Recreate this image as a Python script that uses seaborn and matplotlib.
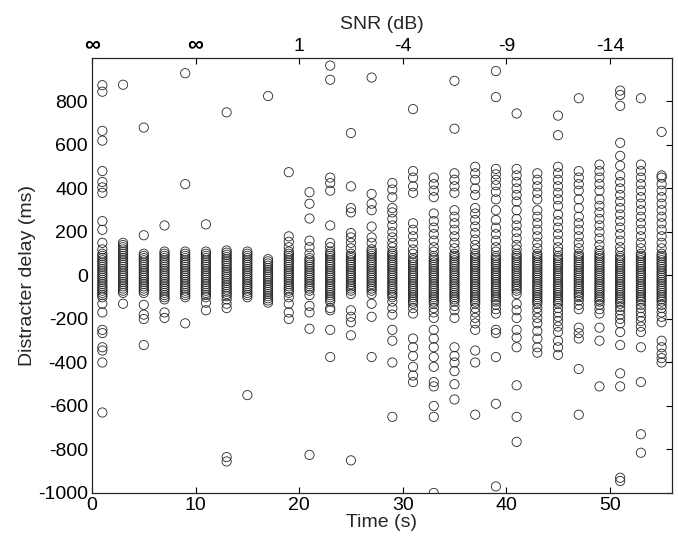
import matplotlib
matplotlib.use("Agg")
import matplotlib.pyplot as plt
import seaborn as sns
import pandas as pd

# ---- data ----
times = [1, 3, 5, 7, 9, 11, 13, 15, 17, 19, 21, 23, 25, 27,
         29, 31, 33, 35, 37, 39, 41, 43, 45, 47, 49, 51, 53, 55]

d01 = [875, 845, 665, 620, 480, 430, 405, 380, 250, 210, 150, 120,
       100, 90, 80, 70, 60, 50, 40, 30, 20, 10, 0, -10, -20, -30, -40, -50, -60, -70, -80, -90, -100,
       -130, -170, -250, -265, -330, -345, -400, -630]
d03 = [877, 150, 140, 130, 120, 110, 100, 90, 80, 70, 60, 50, 40, 30, 20, 10, 0,
       -10, -20, -30, -40, -50, -60, -70, -80, -130]
d05 = [680, 185, 100, 90, 80, 70, 60, 50, 40, 30, 20, 10, 0, -10, -20, -30, -40,
       -50, -60, -70, -80, -135, -180, -200, -320]
d07 = [230, 110, 100, 90, 80, 70, 60, 50, 40, 30, 20, 10, 0, -10, -20, -30, -40,
       -50, -60, -70, -80, -90, -100, -110, -170, -195]
d09 = [930, 420, 110, 100, 90, 80, 70, 60, 50, 40, 30, 20, 10, 0, -10, -20, -30,
       -40, -50, -60, -70, -80, -90, -100, -220]
d11 = [235, 110, 100, 90, 80, 70, 60, 50, 40, 30, 20, 10, 0, -10, -20, -30, -40,
       -50, -60, -70, -80, -90, -100, -125, -160]
d13 = [750, 115, 105, 95, 85, 75, 65, 55, 45, 35, 25, 15, 5, -5, -15, -25, -35,
       -45, -55, -65, -75, -85, -95, -110, -130, -150, -835, -855]
d15 = [110, 100, 90, 80, 70, 60, 50, 40, 30, 20, 10, 0, -10, -20, -30, -40, -50,
       -60, -70, -80, -90, -100, -550]
d17 = [825, 75, 65, 55, 45, 35, 25, 15, 5, -5, -15, -25, -35, -45, -55, -65, -75,
       -85, -95, -105, -115, -125]
d19 = [475, 180, 155, 130, 110, 100, 90, 80, 70, 60, 50, 40, 30, 20, 10, 0, -10,
       -20, -30, -40, -50, -60, -70, -80, -100, -130, -170, -200]
d21 = [383, 330, 262, 160, 130, 100, 80, 70, 60, 50, 40, 30, 20, 10, 0, -10, -20,
       -30, -40, -50, -60, -70, -90, -140, -170, -245, -825]
d23 = [965, 900, 450, 425, 390, 230, 150, 130, 110, 100, 90, 80, 70, 60, 50, 40,
       30, 20, 10, 0, -10, -20, -30, -40, -50, -60, -70, -80, -90, -100, -110,
       -120, -150, -160, -250, -375]
d25 = [655, 410, 310, 290, 195, 175, 150, 125, 100, 90, 80, 70, 60, 50, 40, 30,
       20, 10, 0, -10, -20, -30, -40, -50, -60, -70, -85, -160, -190, -215, -275, -850]
d27 = [910, 375, 330, 300, 225, 175, 150, 120, 110, 100, 90, 80, 70, 60, 50, 40,
       30, 20, 10, 0, -10, -20, -30, -40, -50, -60, -70, -85, -130, -190, -375]
d29 = [425, 395, 360, 310, 290, 260, 230, 200, 175, 150, 130, 110, 100, 90, 80,
       70, 60, 50, 40, 30, 20, 10, 0, -10, -20, -30, -40, -50, -60, -70, -80, -90,
       -100, -120, -150, -180, -250, -300, -400, -650]
d31 = [765, 480, 450, 410, 380, 240, 210, 180, 150, 120, 100, 80, 70, 60, 50, 40,
       30, 20, 10, 0, -10, -20, -30, -40, -50, -60, -70, -80, -90, -100, -110, -120,
       -130, -150, -175, -290, -330, -370, -420, -460, -490]
d33 = [450, 420, 390, 360, 285, 250, 220, 190, 160, 130, 110, 90, 80, 70, 60, 50,
       40, 30, 20, 10, 0, -10, -20, -30, -40, -50, -60, -70, -80, -90, -100, -110,
       -120, -130, -150, -170, -195, -250, -290, -330, -375, -420, -490, -510,
       -600, -650, -1000]
d35 = [895, 675, 470, 440, 410, 380, 300, 270, 240, 210, 180, 150, 125, 100, 90,
       80, 70, 60, 50, 40, 30, 20, 10, 0, -10, -20, -30, -40, -50, -60, -70, -80,
       -90, -100, -110, -120, -140, -160, -195, -330, -370, -400, -440, -500, -570]
d37 = [500, 470, 440, 400, 370, 310, 285, 255, 225, 195, 165, 140, 120, 100, 90,
       80, 70, 60, 50, 40, 30, 20, 10, 0, -10, -20, -30, -40, -50, -60, -70, -80,
       -90, -100, -110, -120, -130, -150, -170, -195, -220, -250, -345, -400, -640]
d39 = [940, 820, 490, 465, 440, 415, 385, 350, 300, 255, 220, 190, 160, 130, 110,
       90, 80, 70, 60, 50, 40, 30, 20, 10, 0, -10, -20, -30, -40, -50, -60, -70,
       -80, -90, -100, -110, -120, -135, -155, -175, -250, -265, -375, -590, -970]
d41 = [745, 490, 460, 430, 400, 370, 340, 300, 260, 230, 200, 170, 140, 120, 100,
       90, 80, 70, 60, 50, 40, 30, 20, 10, 0, -10, -20, -30, -40, -50, -60, -70,
       -85, -130, -160, -195, -250, -285, -330, -505, -650, -765]
d43 = [470, 440, 410, 380, 350, 300, 270, 240, 210, 180, 150, 125, 100, 90, 80,
       70, 60, 50, 40, 30, 20, 10, 0, -10, -20, -30, -40, -50, -60, -70, -80, -90,
       -100, -110, -120, -130, -150, -170, -195, -220, -255, -290, -330, -355]
d45 = [735, 645, 500, 470, 440, 410, 380, 350, 320, 280, 250, 220, 190, 160, 130,
       110, 90, 80, 70, 60, 50, 40, 30, 20, 10, 0, -10, -20, -30, -40, -50, -60,
       -70, -80, -90, -100, -110, -120, -130, -150, -170, -190, -210, -235, -260,
       -300, -330, -365]
d47 = [815, 480, 450, 420, 390, 350, 310, 270, 240, 210, 180, 150, 125, 100, 90,
       80, 70, 60, 50, 40, 30, 20, 10, 0, -10, -20, -30, -40, -50, -60, -70, -80,
       -90, -100, -115, -135, -155, -240, -265, -290, -430, -640]
d49 = [510, 480, 450, 420, 390, 350, 320, 290, 260, 230, 200, 170, 140, 115, 100,
       90, 80, 70, 60, 50, 40, 30, 20, 10, 0, -10, -20, -30, -40, -50, -60, -70,
       -80, -90, -100, -110, -120, -135, -155, -175, -240, -300, -510]
d51 = [850, 830, 780, 610, 550, 505, 460, 430, 400, 370, 340, 310, 280, 250, 220,
       190, 160, 130, 110, 90, 80, 70, 60, 50, 40, 30, 20, 10, 0, -10, -20, -30,
       -40, -50, -60, -70, -80, -90, -100, -110, -120, -130, -145, -160, -180,
       -200, -220, -260, -320, -450, -510, -930, -945]
d53 = [815, 510, 480, 450, 420, 390, 360, 330, 300, 270, 240, 210, 180, 150, 125,
       100, 90, 80, 70, 60, 50, 40, 30, 20, 10, 0, -10, -20, -30, -40, -50, -60,
       -70, -80, -90, -100, -110, -120, -135, -150, -170, -190, -210, -235, -260,
       -330, -490, -730, -815]
d55 = [660, 460, 450, 420, 390, 360, 330, 300, 270, 240, 210, 180, 150, 125, 100,
       90, 80, 70, 60, 50, 40, 30, 20, 10, 0, -10, -20, -30, -40, -50, -60, -70,
       -80, -90, -100, -110, -120, -135, -150, -170, -190, -215, -300, -330, -360,
       -380, -400]

delays = [d01, d03, d05, d07, d09, d11, d13, d15, d17, d19, d21, d23, d25, d27,
          d29, d31, d33, d35, d37, d39, d41, d43, d45, d47, d49, d51, d53, d55]

snr_ticks = [0, 10, 20, 30, 40, 50]
snr_labels = ["\u221e", "\u221e", "1", "-4", "-9", "-14"]
y_ticks = [-1000, -800, -600, -400, -200, 0, 200, 400, 600, 800]
x_ticks = [0, 10, 20, 30, 40, 50]

rows = []
for t, vals in zip(times, delays):
    for v in vals:
        rows.append((t, v))
df = pd.DataFrame(rows, columns=["time", "delay"])

# ---- plotting ----
sns.set_style("white")
plt.rcParams["font.family"] = ["Liberation Sans", "DejaVu Sans"]
plt.rcParams["axes.unicode_minus"] = False

FS = 14
fig = plt.figure(figsize=(6.78, 5.44), dpi=100)
ax = fig.add_axes([0.1357, 0.0938, 0.8554, 0.7996])

sns.scatterplot(data=df, x="time", y="delay", ax=ax, marker="o", s=44,
                facecolor="none", edgecolor="#262626", linewidth=0.6, legend=False)

ax.set_xlim(0, 56)
ax.set_ylim(-1000, 1000)
ax.set_xticks(x_ticks)
ax.set_yticks(y_ticks)
ax.set_xlabel("Time (s)", fontsize=FS, labelpad=0)
ax.set_ylabel("Distracter delay (ms)", fontsize=FS, labelpad=1)
ax.tick_params(axis="both", direction="in", length=4, width=0.8, labelsize=FS,
               colors="black", right=True, top=False, pad=3)
for sp in ax.spines.values():
    sp.set_color("black")
    sp.set_linewidth(0.8)

ax2 = ax.twiny()
ax2.set_xlim(ax.get_xlim())
ax2.set_xticks(snr_ticks)
ax2.set_xticklabels(snr_labels)
ax2.set_xlabel("SNR (dB)", fontsize=FS, labelpad=4)
ax2.tick_params(axis="x", direction="in", length=4, width=0.8, labelsize=FS,
                colors="black", pad=2)
for lab in ax2.get_xticklabels()[:2]:
    lab.set_fontsize(16)
    lab.set_fontweight("bold")

fig.savefig("out.png", dpi=100)
